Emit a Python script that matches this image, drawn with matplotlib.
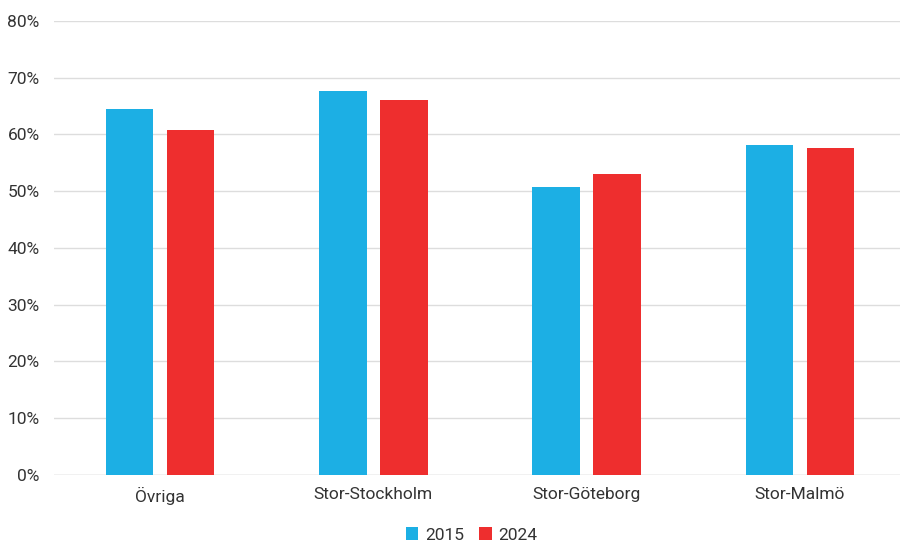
import numpy as np
import matplotlib.pyplot as plt
from matplotlib.ticker import PercentFormatter

plt.rcParams['font.family'] = ['Roboto', 'DejaVu Sans']

regions = ["Övriga", "Stor-Stockholm", "Stor-Göteborg", "Stor-Malmö"]
years = ["2015", "2024"]
share_2015 = [64.5, 67.7, 50.7, 58.1]
share_2024 = [60.8, 66.0, 53.0, 57.6]

blue = "#1cafe4"
red = "#ee2e2e"
text_col = "#333333"

fig = plt.figure(figsize=(9, 5.45), dpi=100)
ax = fig.add_axes([53.5 / 900, (545 - 474.7) / 545, 853 / 900, (474.7 - 21) / 545])

x = np.arange(len(regions))
w = 0.222
off = 0.143
ax.bar(x - off, share_2015, w, color=blue, label=years[0], zorder=2)
ax.bar(x + off, share_2024, w, color=red, label=years[1], zorder=2)

ax.set_xlim(-0.5, 3.5)
ax.set_ylim(0, 80)
ax.set_yticks(np.arange(0, 81, 10))
ax.yaxis.set_major_formatter(PercentFormatter(decimals=0))
ax.grid(axis="y", color="#dddddd", linewidth=1, zorder=0)
ax.set_xticks(x)
ax.set_xticklabels(regions)
ax.tick_params(axis="both", length=0, labelsize=12.5, colors=text_col)
ax.tick_params(axis="x", pad=9)
ax.tick_params(axis="y", pad=10)
for s in ax.spines.values():
    s.set_visible(False)
ax.axhline(0, color="#d4d4d4", linewidth=1, zorder=1)

fig.legend(loc="center", bbox_to_anchor=(0.524, 1 - 535 / 545), ncol=2, frameon=False,
           fontsize=12.5, handlelength=0.7, handleheight=0.7, handletextpad=0.4,
           columnspacing=0.9, labelcolor=text_col)

fig.savefig("out.png", dpi=100)
